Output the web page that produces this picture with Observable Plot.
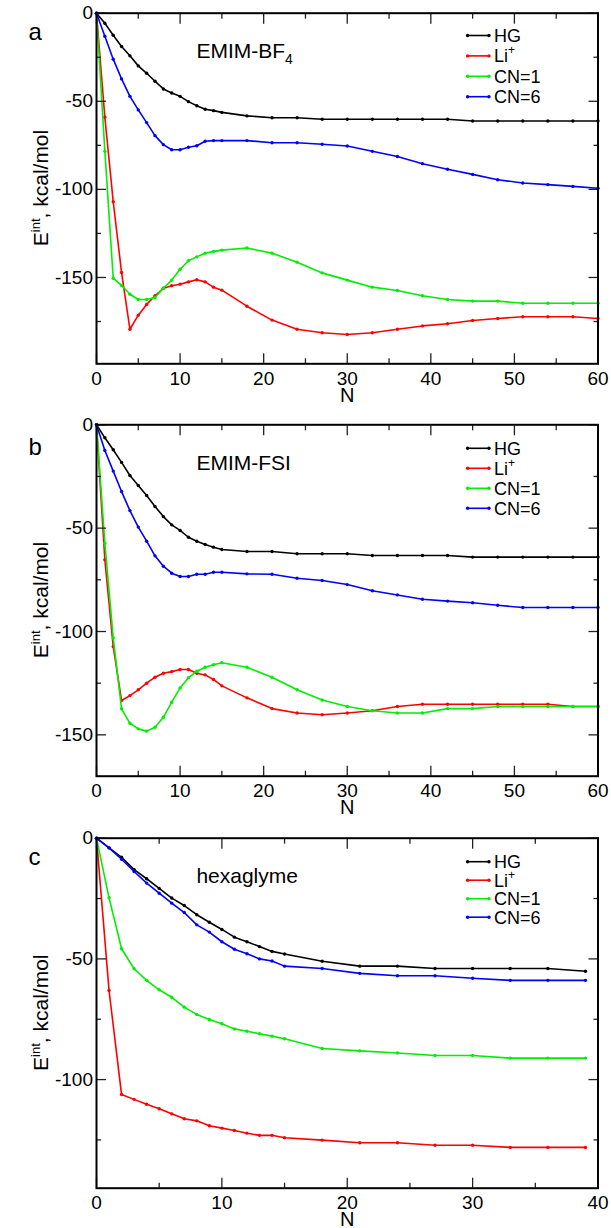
<!DOCTYPE html>
<html><head><meta charset="utf-8">
<script src="https://cdn.jsdelivr.net/npm/d3@7"></script>
<script src="https://cdn.jsdelivr.net/npm/@observablehq/plot@0.6"></script>
<style>
html,body{margin:0;padding:0;background:#fff;}
#root{position:relative;width:611px;height:1228px;overflow:hidden;background:#fff;}
.panel{position:absolute;left:0;}
</style></head><body><div id="root"></div>
<script>
// ---------- data ----------
const seriesNames = ["HG", "Li+", "CN=1", "CN=6"];
const seriesColors = ["#000000", "#ff0000", "#00ee00", "#0000ff"];

// panel a & b share N values
const nAB = [0,1,2,3,4,5,6,7,8,9,10,11,12,13,14,15,18,21,24,27,30,33,36,39,42,45,48,51,54,57,60];
const nC  = [0,1,2,3,4,5,6,7,8,9,10,11,12,13,14,15,18,21,24,27,30,33,36,39];

// panel a: EMIM-BF4
const hgA  = [0,-5.7,-12.5,-18.9,-24.2,-29.9,-34.1,-38.6,-43.0,-45.3,-47.2,-50.2,-52.5,-54.5,-55.3,-56.3,-58.3,-59.3,-59.3,-60.2,-60.2,-60.2,-60.2,-60.2,-60.2,-61.2,-61.2,-61.2,-61.2,-61.2,-61.2];
const liA  = [0,-59.1,-107,-147.2,-179.4,-171.4,-165.3,-160.4,-156.1,-154.7,-153.8,-152.5,-151.3,-152.5,-155.5,-157.2,-166.3,-174.2,-179.4,-181.4,-182.4,-181.4,-179.4,-177.5,-176.3,-174.4,-173.3,-172.3,-172.3,-172.3,-173.3];
const cn1A = [0,-78.4,-150.4,-154.5,-159.5,-162.5,-162.5,-161.4,-156.1,-151.5,-145.3,-140.5,-138.3,-136.2,-135.2,-134.5,-133.3,-136.2,-141.3,-147.4,-151.5,-155.5,-157.4,-160.4,-162.5,-163.4,-163.4,-164.6,-164.6,-164.6,-164.6];
const cn6A = [0,-13.1,-26.1,-37.3,-47.2,-54.9,-62.1,-69.5,-74.6,-77.5,-77.5,-76.1,-75.2,-72.7,-72.3,-72.3,-72.3,-73.5,-73.5,-74.4,-75.4,-78.4,-81.3,-85.4,-88.6,-91.5,-94.5,-96.4,-97.3,-98.3,-99.4];

// panel b: EMIM-FSI
const hgB  = [0,-6.3,-12.1,-18.2,-24.5,-29.4,-34.2,-39.5,-44.4,-48.4,-51.1,-54.4,-56.3,-57.9,-59.2,-60.3,-61.3,-61.3,-62.4,-62.4,-62.4,-63.2,-63.2,-63.2,-63.2,-64,-64,-64,-64,-64,-64];
const liB  = [0,-65.3,-107.3,-133.4,-131.0,-128.2,-125.0,-122.1,-120.2,-119.4,-118.4,-118.4,-120.2,-121.0,-123.2,-126.3,-132.1,-137.3,-139.4,-140.3,-139.4,-138.3,-136.3,-135.2,-135.2,-135.2,-135.2,-135.2,-135.2,-136.3,-136.3];
const cn1B = [0,-57.3,-103.1,-137.4,-144.4,-147.1,-148.2,-146.3,-141.5,-134.2,-127.3,-122.4,-119.2,-117.3,-116.1,-115.1,-117.3,-122.1,-128.2,-133.1,-136.3,-138.3,-139.4,-139.4,-137.3,-137.3,-136.3,-136.3,-136.3,-136.3,-136.3];
const cn6B = [0,-12.4,-22.4,-32.3,-41.5,-49.5,-56.3,-63.4,-68.4,-71.8,-73.4,-73.4,-72.3,-72.3,-71.3,-71.3,-72.1,-72.3,-74.2,-75.3,-77.3,-80.3,-82.3,-84.4,-85.3,-86.1,-87.3,-88.4,-88.4,-88.4,-88.4];

// panel c: hexaglyme
const hgC  = [0,-4.0,-7.9,-13.0,-16.8,-20.8,-24.8,-27.9,-31.7,-34.8,-37.8,-41.0,-42.9,-44.9,-46.9,-48.0,-51.0,-53.0,-53.0,-54.0,-54.0,-54.0,-54.0,-55.1];
const liC  = [0,-63.1,-106.2,-108.2,-110.2,-112.1,-114.2,-116.2,-117.1,-119.1,-120.1,-121.1,-122.2,-123.1,-123.1,-124.1,-125.1,-126.2,-126.2,-127.2,-127.2,-128.1,-128.1,-128.1];
const cn1C = [0,-24.7,-45.8,-54.1,-58.9,-62.8,-65.9,-70.0,-73.0,-75.1,-76.9,-79.0,-80.0,-81.0,-82.0,-83.1,-87.1,-88.1,-89.0,-90.0,-90.0,-91.1,-91.1,-91.1];
const cn6C = [0,-4.0,-8.7,-13.8,-18.6,-22.8,-26.9,-30.8,-35.9,-38.9,-42.9,-46.0,-47.9,-50.0,-50.9,-53.0,-54.0,-56.0,-57.0,-57.0,-58.0,-58.9,-58.9,-58.9];

// ticks
const xMajor60 = [0,10,20,30,40,50,60];
const xMinor60 = [5,15,25,35,45,55];
const xMajor40 = [0,10,20,30,40];
const xMinor40 = [5,15,25,35];
const yMajorAB = [0,-50,-100,-150];
const yMinorA  = [-25,-75,-125,-175];
const yMinorB  = [-25,-75,-125];
const yMajorC  = [0,-50,-100];
const yMinorC  = [-25,-75,-125];

const panelLetters = ["a","b","c"];
const panelTitles = [["EMIM-BF","4"],["EMIM-FSI",""],["hexaglyme",""]];
const yLabelMain = "E", yLabelSup = "int", yLabelRest = ", kcal/mol";
const xLabel = "N";

// ---------- layout ----------
const FONT = "'Liberation Sans', Arial, Helvetica, sans-serif";
const panels = [
  {x:nAB, series:[hgA,liA,cn1A,cn6A], xDomain:[0,60], yDomain:[-199,0], xMaj:xMajor60, xMin:xMinor60, yMaj:yMajorAB, yMin:yMinorA,
   top:0, height:410, mt:12.7, mb:46.7, letterDy:27.3, legTop:22.8, legStep:20.4},
  {x:nAB, series:[hgB,liB,cn1B,cn6B], xDomain:[0,60], yDomain:[-170,0], xMaj:xMajor60, xMin:xMinor60, yMaj:yMajorAB, yMin:yMinorB,
   top:410, height:412, mt:14.3, mb:46.3, letterDy:30.7, legTop:24, legStep:20},
  {x:nC, series:[hgC,liC,cn1C,cn6C], xDomain:[0,40], yDomain:[-145,0], xMaj:xMajor40, xMin:xMinor40, yMaj:yMajorC, yMin:yMinorC,
   top:822, height:406, mt:15.7, mb:40.3, letterDy:27.3, legTop:24, legStep:18.5}
];

const W = 611, ML = 96, MR = 13.5;
const root = document.getElementById("root");

panels.forEach((p, pi) => {
  const marks = [];
  p.series.forEach((vals, si) => {
    const rows = vals.map((v, i) => ({N: p.x[i], E: v, s: seriesNames[si]}));
    marks.push(Plot.line(rows, {x: "N", y: "E", stroke: seriesColors[si], strokeWidth: 1.6}));
    marks.push(Plot.dot(rows, {x: "N", y: "E", fill: seriesColors[si], r: 1.7}));
  });
  const tickStroke = "#222";
  marks.push(
    Plot.axisX(p.xMaj, {anchor: "bottom", tickSize: -10, tickPadding: 17.5, tickFormat: d => String(d), fontSize: 19, label: null, stroke: tickStroke, strokeWidth: 1.3}),
    Plot.axisX(p.xMin, {anchor: "bottom", tickSize: -5, fill: "none", label: null, stroke: tickStroke, strokeWidth: 1.3}),
    Plot.axisX(p.xMaj, {anchor: "top", tickSize: -10, fill: "none", label: null, stroke: tickStroke, strokeWidth: 1.3}),
    Plot.axisX(p.xMin, {anchor: "top", tickSize: -5, fill: "none", label: null, stroke: tickStroke, strokeWidth: 1.3}),
    Plot.axisY(p.yMaj, {anchor: "left", tickSize: -10, tickPadding: 13.5, tickFormat: d => String(d), fontSize: 19, label: null, stroke: tickStroke, strokeWidth: 1.3}),
    Plot.axisY(p.yMin, {anchor: "left", tickSize: -5, fill: "none", label: null, stroke: tickStroke, strokeWidth: 1.3}),
    Plot.axisY(p.yMaj, {anchor: "right", tickSize: -10, fill: "none", label: null, stroke: tickStroke, strokeWidth: 1.3}),
    Plot.axisY(p.yMin, {anchor: "right", tickSize: -5, fill: "none", label: null, stroke: tickStroke, strokeWidth: 1.3}),
    Plot.frame({stroke: "black", strokeWidth: 2}),
    Plot.text([xLabel], {frameAnchor: "bottom", dy: 38, fontSize: 20, text: d => d, fill: "black"})
  );
  const svg = Plot.plot({
    width: W, height: p.height,
    marginLeft: ML, marginRight: MR, marginTop: p.mt, marginBottom: p.mb,
    style: {fontFamily: FONT, fontSize: "19px", background: "transparent", overflow: "visible", color: "black"},
    x: {domain: p.xDomain},
    y: {domain: p.yDomain},
    marks
  });
  const div = document.createElement("div");
  div.className = "panel";
  div.style.top = p.top + "px";
  div.appendChild(svg);
  root.appendChild(div);

  const s = d3.select(svg);
  const frameTop = p.mt, frameBottom = p.height - p.mb;
  // panel letter
  s.append("text").attr("x", 28.5).attr("y", frameTop + p.letterDy).attr("text-anchor", "start")
    .attr("font-family", FONT).attr("font-size", 24).attr("fill", "black").text(panelLetters[pi]);
  // inner title
  const t = s.append("text").attr("x", 196.4).attr("y", frameTop + 45.6).attr("text-anchor", "start")
    .attr("font-family", FONT).attr("font-size", 21).attr("fill", "black");
  t.append("tspan").text(panelTitles[pi][0]);
  if (panelTitles[pi][1]) t.append("tspan").attr("font-size", 14).attr("dy", 6).text(panelTitles[pi][1]);
  // y label
  const yc = (frameTop + frameBottom) / 2;
  const yl = s.append("text").attr("transform", `translate(48,${yc}) rotate(-90)`)
    .attr("text-anchor", "middle").attr("font-family", FONT).attr("font-size", 21).attr("fill", "black");
  yl.append("tspan").text(yLabelMain);
  yl.append("tspan").attr("font-size", 13).attr("dy", -8).text(yLabelSup);
  yl.append("tspan").attr("dy", 8).text(yLabelRest);
  // legend
  const lg = s.append("g");
  seriesNames.forEach((name, i) => {
    const y = frameTop + p.legTop + i * p.legStep;
    lg.append("line").attr("x1", 467.6).attr("x2", 489).attr("y1", y).attr("y2", y)
      .attr("stroke", seriesColors[i]).attr("stroke-width", 1.6);
    [467.6, 489].forEach(cx => lg.append("circle").attr("cx", cx).attr("cy", y).attr("r", 1.7).attr("fill", seriesColors[i]));
    const tx = lg.append("text").attr("x", 494).attr("y", y + 6.5).attr("text-anchor", "start")
      .attr("font-family", FONT).attr("font-size", 18).attr("fill", "black");
    if (name === "Li+") {
      tx.append("tspan").text("Li");
      tx.append("tspan").attr("font-size", 12).attr("dy", -8).text("+");
    } else {
      tx.text(name);
    }
  });
});
</script>
</body></html>
